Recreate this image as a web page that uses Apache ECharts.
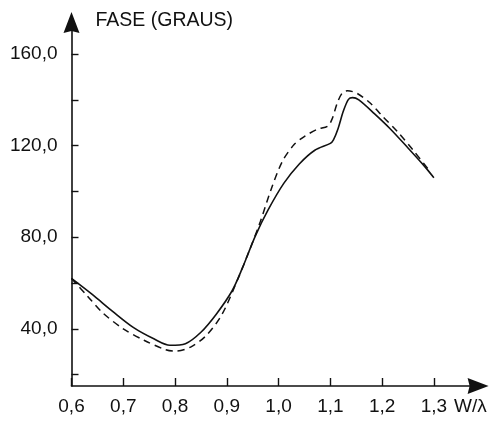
<!DOCTYPE html>
<html>
<head>
<meta charset="utf-8">
<script src="https://cdn.jsdelivr.net/npm/echarts@6/dist/echarts.min.js"></script>
<style>
  html, body { margin: 0; padding: 0; background: #fff; }
  #chart { width: 496px; height: 421px; }
</style>
</head>
<body>
<div id="chart"></div>
<script>
// W/λ values and phase (degrees) for the two curves
const solidX = [0.60, 0.64, 0.68, 0.72, 0.76, 0.79, 0.82, 0.85, 0.88, 0.91, 0.93, 0.955, 0.98, 1.01, 1.04, 1.07, 1.10, 1.106, 1.115, 1.125, 1.135, 1.143, 1.155, 1.185, 1.215, 1.25, 1.28, 1.30];
const solidY = [62.0, 55.0, 47.5, 40.5, 35.5, 32.8, 33.5, 38.5, 46.5, 56.5, 66.5, 80.5, 92.0, 103.5, 112.0, 118.0, 121.0, 122.5, 127.5, 135.0, 140.2, 141.0, 140.0, 134.0, 127.5, 119.0, 111.5, 106.0];

const dashX = [0.60, 0.63, 0.66, 0.70, 0.74, 0.78, 0.80, 0.83, 0.86, 0.89, 0.92, 0.945, 0.965, 0.985, 1.007, 1.03, 1.05, 1.075, 1.095, 1.104, 1.113, 1.123, 1.133, 1.152, 1.178, 1.20, 1.23, 1.26, 1.29];
const dashY = [62.0, 54.5, 47.0, 40.0, 35.0, 31.0, 30.2, 32.0, 37.0, 46.0, 61.0, 75.0, 87.0, 100.5, 113.0, 120.5, 124.0, 127.2, 128.5, 132.0, 138.4, 143.0, 144.0, 142.8, 138.4, 133.0, 126.0, 118.0, 109.5];

// axis ticks and labels
const xTicks = [0.6, 0.7, 0.8, 0.9, 1.0, 1.1, 1.2, 1.3];
const yTicks = [20, 40, 60, 80, 100, 120, 140, 160];
const yLabels = [40, 80, 120, 160];

const ink = '#111';
const font = 'Liberation Sans, Arial, Helvetica, sans-serif';
// solid arrow head, tip pointing along the axis
const arrowHead = 'path://M8,0 L16,21 L8,19 L0,21 Z';

const pairs = (xs, ys) => xs.map((x, i) => [x, ys[i]]);
const comma = v => Number(v).toFixed(1).replace('.', ',');

const chart = echarts.init(document.getElementById('chart'), null, { renderer: 'canvas' });
chart.setOption({
  animation: false,
  backgroundColor: '#fff',
  grid: { left: 71.5, top: 22.5, width: 406.6, height: 363.5, containLabel: false },
  xAxis: {
    type: 'value',
    min: 0.6,
    max: 1.3854,
    name: 'W/λ',
    nameLocation: 'end',
    nameGap: -24,
    nameTextStyle: { color: ink, fontSize: 19, fontFamily: font, verticalAlign: 'top', padding: [11, 0, 0, 0] },
    axisLine: { lineStyle: { color: ink, width: 1.6 }, symbol: ['none', arrowHead], symbolSize: [16, 21] },
    axisTick: { inside: true, length: 8, lineStyle: { color: ink, width: 1.4 }, customValues: xTicks },
    axisLabel: { color: ink, fontSize: 19, fontFamily: font, margin: 11, customValues: xTicks, formatter: comma },
    splitLine: { show: false }
  },
  yAxis: {
    type: 'value',
    min: 15,
    max: 173.8,
    name: 'FASE (GRAUS)',
    nameLocation: 'end',
    nameGap: 1.5,
    nameTextStyle: { color: ink, fontSize: 19.5, fontFamily: font, align: 'left', verticalAlign: 'middle', padding: [0, 0, 0, 24] },
    axisLine: { show: true, lineStyle: { color: ink, width: 1.6 }, symbol: ['none', arrowHead], symbolSize: [16, 21] },
    axisTick: { show: true, inside: true, length: 7, lineStyle: { color: ink, width: 1.4 }, customValues: yTicks },
    axisLabel: { color: ink, fontSize: 19, fontFamily: font, margin: 14, customValues: yLabels, formatter: comma },
    splitLine: { show: false }
  },
  series: [
    {
      type: 'line',
      data: pairs(solidX, solidY),
      smooth: 0.3,
      showSymbol: false,
      lineStyle: { color: ink, width: 1.6, type: 'solid' }
    },
    {
      type: 'line',
      data: pairs(dashX, dashY),
      smooth: 0.3,
      showSymbol: false,
      lineStyle: { color: ink, width: 1.5, type: [7, 5] }
    }
  ]
});
</script>
</body>
</html>
